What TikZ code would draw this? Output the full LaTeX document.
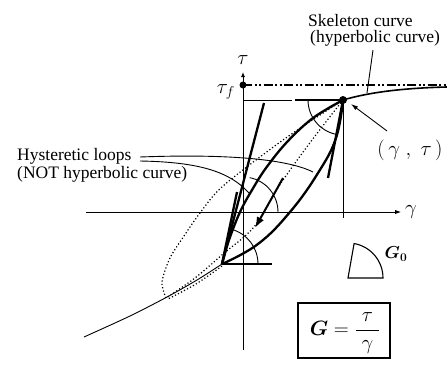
\documentclass[tikz,border=0pt]{standalone}
\usepackage{amsmath}
\usepackage{fontspec}
\setmainfont{Liberation Serif}
\usepackage{bm}
\usetikzlibrary{arrows.meta}
\begin{document}
\begin{tikzpicture}[x=1pt,y=-1pt,
  thinline/.style={line width=0.9pt},
  thickline/.style={line width=2.3pt},
  dotline/.style={line width=1.2pt, dash pattern=on 1.2pt off 2.2pt},
  lbl/.style={font=\fontsize{17.5}{20}\selectfont, inner sep=0pt},
  mathlbl/.style={font=\fontsize{20}{24}\selectfont, inner sep=0pt},
]
\useasboundingbox (0,0) rectangle (447,370);

% key points
\coordinate (O) at (243,212);
\coordinate (P) at (343,100);
\coordinate (R) at (222,264);
\coordinate (L) at (166,298);
\coordinate (taubot) at (243,350);
\coordinate (tautop) at (243,72);
\coordinate (gleft) at (86,212);
\coordinate (gright) at (401,212);
\coordinate (tf) at (243,85);
\coordinate (tfend) at (447,85);
\coordinate (h0) at (243,100);
\coordinate (h1) at (292,100);
\coordinate (h2) at (295,100);
\coordinate (Pb) at (343,218);
\coordinate (skend) at (447,87);
\coordinate (t0a) at (264,103);
\coordinate (t0b) at (237,192);
\coordinate (tPb) at (328,178);
\coordinate (hR) at (272,264);
\coordinate (a1) at (283,178);
\coordinate (a2) at (255,228);
\coordinate (hy1) at (140,157);
\coordinate (hy2) at (140,161);
\coordinate (hyend1) at (313,172);
\coordinate (hyend2) at (249,193);
\coordinate (skl0) at (373,50);
\coordinate (skl1) at (367,93);
\coordinate (gtarr) at (387,131);
\coordinate (ptip) at (351,104);
\coordinate (gv) at (348,278);

% axes
\draw[thinline, -{Latex[length=5pt,width=4pt]}] (taubot) -- (tautop);
\draw[thinline, -{Latex[length=6pt,width=4.5pt]}] (gleft) -- (gright);
\node[mathlbl] (taulab) at (243,60) {$\tau$};
\node[mathlbl, anchor=west] (gamlab) at (405,212) {$\gamma$};

% tau_f
\node[mathlbl, anchor=east] (tflab) at (235,92) {$\tau_f$};
\fill (tf) circle (3.5pt);
\draw[line width=2.2pt, dash pattern=on 9pt off 2.5pt on 2pt off 2.5pt on 2pt off 2.5pt] (tf) -- (tfend);

% peak lines
\draw[thinline] (h0) -- (h1);
\draw[thickline] (h2) -- (P);
\draw[thinline] (P) -- (Pb);
\fill (P) circle (4pt);

% skeleton curve
\draw[line width=1.6pt] (P) .. controls (370,92) and (405,88) .. (skend);
\draw[thinline] plot[smooth] coordinates {(84,337) (130,316) (167,297) (197,280) (222,264)};

% dotted large loop
\draw[dotline] plot[smooth] coordinates {(166,298) (162,282) (170,258) (184,236) (200,213) (223,186) (283,140) (343,100)};
\draw[dotline] plot[smooth] coordinates {(343,100) (312,140) (281,183) (254,227) (223,254) (195,278) (166,298)};
\draw[dotline] plot[smooth] coordinates {(222,266) (196,284) (168,299)};

% hysteretic loop (thick)
\draw[thickline] plot[smooth, tension=0.6] coordinates {(222,264) (229,240) (240,212) (252,190) (266,168) (287,142) (313,118) (343,100)};
\draw[thickline] plot[smooth, tension=0.7] coordinates {(343,100) (336,138) (318,173) (290,212) (258,244) (222,264)};

% tangents
\draw[thickline] (t0a) -- (R);
\draw[thickline] (t0b) -- (R);
\draw[thickline] (P) -- (tPb);
\draw[thickline] (R) -- (hR);

% angle arcs
\draw[thinline] (P) ++(-35pt,0) arc[start angle=180,end angle=259,radius=35pt];
\draw[thinline] (O) ++(35pt,0) arc[start angle=0,end angle=79,radius=35pt];
\draw[thinline] (R) ++(36pt,0) arc[start angle=0,end angle=74,radius=36pt];

% direction arrow
\draw[line width=2pt, -{Latex[length=11pt,width=8pt]}] (a1) -- (a2);

% labels: hysteretic loops
\node[lbl, anchor=base west] (hl1) at (17,160) {Hysteretic loops};
\node[lbl, anchor=base west] (hl2) at (17,178) {(NOT hyperbolic curve)};
\draw[thinline] (hy1) .. controls (220,154) and (285,158) .. (hyend1);
\draw[thinline] (hy2) .. controls (200,162) and (230,172) .. (hyend2);

% labels: skeleton curve
\node[lbl, anchor=base west] (sk1) at (308,26) {Skeleton curve};
\node[lbl, anchor=base west] (sk2) at (310,42) {(hyperbolic curve)};
\draw[thinline] (skl0) -- (skl1);

% (gamma, tau)
\node[mathlbl] (gt) at (410,150) {$(\,\gamma\;,\;\tau\,)$};
\draw[thinline, -{Latex[length=7pt,width=4.5pt]}] (gtarr) -- (ptip);

% G0 sector
\draw[line width=1.1pt] (gv) -- ++(35pt,0) arc[start angle=0,end angle=80,radius=35pt] -- cycle;
\node[font=\fontsize{18}{20}\selectfont, inner sep=0pt] (g0) at (396,254) {$\bm{G_0}$};

% formula box
\node[draw, line width=1.8pt, minimum width=92pt, minimum height=55pt, inner sep=0pt] (box) at (344,330.5) {};
\node[font=\fontsize{20}{24}\selectfont, inner sep=0pt] (formula) at (345,333) {$\bm{G}=\dfrac{\tau}{\;\gamma\;}$};
\end{tikzpicture}
\end{document}
